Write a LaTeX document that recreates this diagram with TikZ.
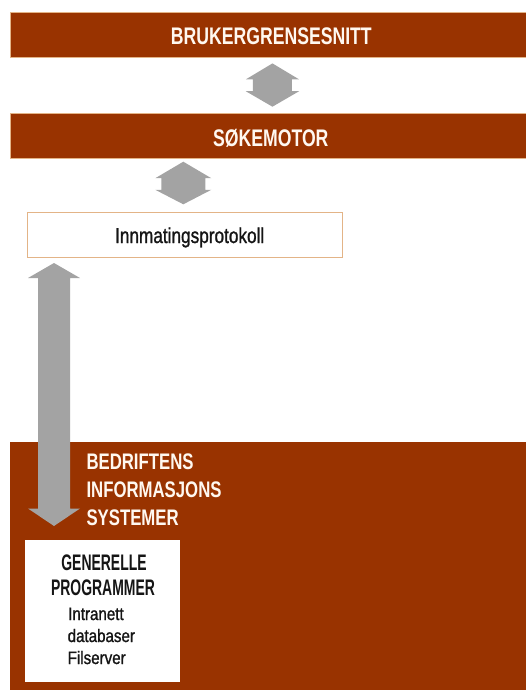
\documentclass[tikz,border=0pt]{standalone}
\usepackage{fontspec}
\usepackage{graphicx}
\setmainfont{Liberation Sans}
\newfontfamily\medfont[FakeBold=1.3]{Liberation Sans}
\usetikzlibrary{calc}
\definecolor{brick}{HTML}{993300}
\definecolor{tanline}{HTML}{E3B487}
\definecolor{arrgray}{HTML}{A3A3A3}
\definecolor{ink}{HTML}{151515}
\definecolor{cream}{HTML}{FFF8F0}
% block double arrow: #1 top tip, #2 bottom tip, #3 head half width, #4 shaft half width, #5 top head length, #6 bottom head length
\newcommand\blockarr[6]{%
  \fill[arrowfill] (#1) -- ++(#3,#5) -- ++(#4-#3,0) -- ($(#2)+(#4,-#6)$) -- ++(#3-#4,0)
    -- (#2) -- ++(-#3,-#6) -- ++(#3-#4,0) -- ($(#1)+(-#4,#5)$) -- ++(#4-#3,0) -- cycle;}
\tikzset{
  arrowfill/.style={fill=arrgray},
  bar/.style={draw=tanline, line width=0.9pt, fill=brick, inner sep=0pt, anchor=north west},
  boxw/.style={fill=white, inner sep=0pt, anchor=north west},
  lbl/.style={inner sep=0pt},
  capsw/.style={lbl, text=cream, font=\bfseries\fontsize{24}{28}\selectfont},
  bisw/.style={lbl, text=cream, anchor=base west, font=\bfseries\fontsize{22.5}{26}\selectfont},
  capsb/.style={lbl, text=ink, anchor=base, font=\bfseries\fontsize{22.5}{26}\selectfont},
  plain/.style={lbl, text=ink},
  small/.style={plain, anchor=base west, font=\medfont\fontsize{18}{21}\selectfont},
}
\begin{document}
\begin{tikzpicture}[x=1pt,y=-1pt]
\useasboundingbox (0,0) rectangle (526,690);
% bars and boxes
\node[bar, minimum width=520pt, minimum height=44.5pt] (ui) at (9.5,12.5) {};
\node[bar, minimum width=520pt, minimum height=45pt] (se) at (9.5,113.3) {};
\node[boxw, draw=tanline, line width=1pt, minimum width=315pt, minimum height=45pt] (feed) at (26.7,211.7) {};
\node[bar, draw=none, minimum width=520pt, minimum height=250pt] (bis) at (9.5,441.5) {};
\node[boxw, minimum width=155pt, minimum height=141.7pt] (gen) at (25,540) {};
% labels
\node[capsw, anchor=base] (uit) at (271.3,44.8) {\scalebox{0.735}[1]{BRUKERGRENSESNITT}};
\node[capsw, anchor=base] (set) at (270.8,146.2) {\scalebox{0.735}[1]{SØKEMOTOR}};
\node[plain, anchor=base, font=\medfont\fontsize{21.5}{24}\selectfont] (feedt) at (189.7,243) {\scalebox{0.8}[1]{Innmatingsprotokoll}};
\node[bisw] (b1) at (86.3,469) {\scalebox{0.745}[1]{BEDRIFTENS}};
\node[bisw] (b2) at (86.3,497) {\scalebox{0.745}[1]{INFORMASJONS}};
\node[bisw] (b3) at (86.3,525) {\scalebox{0.745}[1]{SYSTEMER}};
\node[capsb] (g1) at (104,570) {\scalebox{0.62}[1]{GENERELLE}};
\node[capsb] (g2) at (103,595) {\scalebox{0.62}[1]{PROGRAMMER}};
\node[small] (g3) at (68,620) {\scalebox{0.84}[1]{Intranett}};
\node[small] (g4) at (67.5,642) {\scalebox{0.84}[1]{databaser}};
\node[small] (g5) at (67.5,664) {\scalebox{0.84}[1]{Filserver}};
% arrow end points
\coordinate (a1t) at ($(ui.south)+(2.5,5.5)$);
\coordinate (a1b) at ($(se.north)+(2.5,-6.6)$);
\coordinate (a2t) at (183.3,161.7);
\coordinate (a2b) at (183.3,204.3);
\coordinate (a3t) at (54,263);
\coordinate (a3b) at (54,526);
\blockarr{a1t}{a1b}{26.7}{19.5}{16}{15.5}
\blockarr{a2t}{a2b}{28}{22}{16.5}{14.5}
\blockarr{a3t}{a3b}{26}{16}{15}{17.5}
\end{tikzpicture}
\end{document}
